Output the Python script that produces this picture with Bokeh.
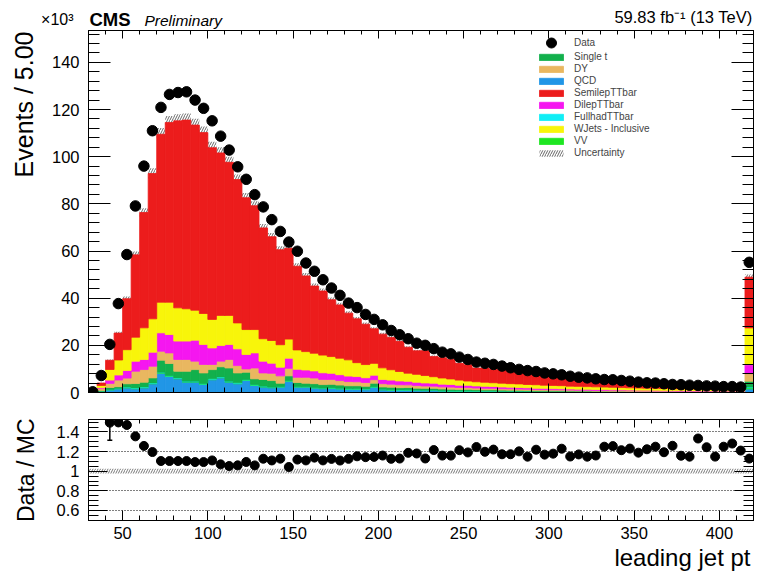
import math
import numpy as np
from bokeh.plotting import figure
from bokeh.layouts import column
from bokeh.models import (Range1d, LinearAxis, FixedTicker, SingleIntervalTicker,
                          Legend, LegendItem, Label, Title, CustomJSTickFormatter)
from bokeh.embed import file_html
from bokeh.resources import INLINE

# 5 GeV bins from 30 to 420 GeV; the last bin also holds the overflow
BIN_LOW, BIN_HIGH, BIN_WIDTH = 30, 420, 5

# events per bin, in units of 10^3
data = [0.3, 7.2, 20.4, 37.7, 58.5, 79.1, 96.0, 111.0, 120.9, 126.4,
        127.2, 127.5, 124.0, 120.5, 115.2, 108.7, 102.8, 95.7, 90.4, 83.9,
        78.7, 73.3, 68.3, 63.8, 59.9, 54.9, 51.4, 47.8, 44.3, 41.2,
        37.9, 36.0, 33.1, 31.0, 28.7, 26.3, 24.5, 22.8, 20.9, 20.0,
        18.6, 17.1, 16.4, 15.0, 14.0, 12.9, 12.4, 11.9, 11.2, 10.5,
        9.8, 9.3, 8.9, 8.3, 7.9, 7.5, 6.9, 6.5, 6.2, 5.8,
        5.5, 5.4, 5.1, 4.8, 4.4, 4.1, 4.0, 3.7, 3.4, 3.3,
        3.1, 3.0, 2.8, 2.7, 2.5, 2.5, 2.3, 55.2]

qcd = [0.0, 0.4, 1.1, 1.56, 1.98, 1.56, 1.98, 3.68, 8.2, 6.8,
       5.8, 4.4, 4.4, 3.4, 5.4, 6.2, 4.4, 3.7, 5.1, 3.0,
       2.3, 2.0, 2.3, 4.8, 2.3, 2.3, 1.9, 1.6, 1.8, 1.5,
       1.3, 1.4, 1.2, 2.2, 1.1, 1.0, 0.9, 1.0, 0.8, 0.75,
       0.8, 0.65, 0.6, 0.55, 0.6, 0.5, 0.45, 0.5, 0.4, 0.4,
       0.35, 0.4, 0.3, 0.3, 0.28, 0.3, 0.25, 0.22, 0.25, 0.2,
       0.2, 0.18, 0.2, 0.16, 0.15, 0.16, 0.13, 0.14, 0.12, 0.12,
       0.1, 0.11, 0.1, 0.09, 0.1, 0.08, 0.08, 1.5]

vv = [0.0, 0.05, 0.1, 0.1, 0.1, 0.2, 0.2, 0.2, 0.2, 0.2,
      0.2, 0.2, 0.2, 0.2, 0.2, 0.2, 0.2, 0.2, 0.2, 0.2,
      0.2, 0.15, 0.15, 0.15, 0.15, 0.15, 0.15, 0.15, 0.15, 0.15,
      0.15, 0.15, 0.15, 0.15, 0.15, 0.15, 0.1, 0.1, 0.1, 0.1,
      0.1, 0.1, 0.1, 0.1, 0.1, 0.1, 0.1, 0.1, 0.1, 0.1,
      0.1, 0.05, 0.05, 0.05, 0.05, 0.05, 0.05, 0.05, 0.05, 0.05,
      0.05, 0.05, 0.05, 0.05, 0.05, 0.05, 0.05, 0.05, 0.05, 0.05,
      0.05, 0.05, 0.05, 0.05, 0.05, 0.05, 0.05, 0.5]

fullhad_ttbar = [0.0, 0.05, 0.1, 0.1, 0.2, 0.2, 0.2, 0.2, 0.2, 0.2,
                 0.2, 0.2, 0.2, 0.2, 0.2, 0.2, 0.2, 0.2, 0.2, 0.2,
                 0.2, 0.1, 0.1, 0.1, 0.1, 0.1, 0.1, 0.1, 0.1, 0.1,
                 0.1, 0.1, 0.1, 0.1, 0.1, 0.1, 0.1, 0.1, 0.1, 0.1,
                 0.1, 0.05, 0.05, 0.05, 0.05, 0.05, 0.05, 0.05, 0.05, 0.05,
                 0.05, 0.05, 0.05, 0.05, 0.05, 0.05, 0.05, 0.05, 0.05, 0.05,
                 0.05, 0.05, 0.05, 0.05, 0.05, 0.05, 0.05, 0.05, 0.05, 0.05,
                 0.05, 0.05, 0.05, 0.05, 0.05, 0.05, 0.05, 0.3]

single_t = [0.01, 0.3, 0.85, 0.7, 1.42, 1.84, 1.98, 2.12, 5.1, 5.1,
            2.8, 4.2, 4.9, 4.5, 3.9, 4.3, 5.6, 4.2, 3.1, 2.4,
            2.8, 2.8, 1.4, 2.0, 1.7, 1.4, 1.6, 1.5, 1.4, 1.4,
            1.3, 1.2, 1.2, 1.5, 1.0, 1.0, 0.95, 0.9, 0.85, 0.8,
            0.75, 0.7, 0.68, 0.62, 0.6, 0.55, 0.52, 0.5, 0.46, 0.44,
            0.42, 0.4, 0.37, 0.36, 0.34, 0.32, 0.3, 0.29, 0.27, 0.26,
            0.25, 0.23, 0.22, 0.21, 0.2, 0.19, 0.18, 0.17, 0.16, 0.16,
            0.15, 0.14, 0.13, 0.13, 0.12, 0.11, 0.11, 2.5]

dy = [0.02, 0.8, 1.7, 2.83, 2.4, 5.23, 5.38, 4.95, 3.8, 4.5,
      5.0, 5.0, 3.6, 3.6, 2.2, 2.4, 3.6, 3.1, 1.4, 4.6,
      2.8, 3.1, 3.1, 3.2, 2.2, 2.5, 2.4, 2.2, 2.1, 1.9,
      1.8, 1.7, 1.6, 1.5, 1.4, 1.3, 1.25, 1.15, 1.1, 1.0,
      0.95, 0.9, 0.85, 0.8, 0.75, 0.7, 0.66, 0.62, 0.58, 0.55,
      0.52, 0.49, 0.46, 0.44, 0.42, 0.4, 0.38, 0.36, 0.34, 0.32,
      0.31, 0.29, 0.28, 0.27, 0.25, 0.24, 0.23, 0.22, 0.21, 0.2,
      0.19, 0.18, 0.17, 0.17, 0.16, 0.15, 0.15, 3.2]

dilep_ttbar = [0.01, 0.4, 1.4, 2.13, 3.26, 4.25, 4.24, 5.95, 7.8, 7.8,
               7.8, 7.8, 8.9, 8.5, 7.0, 6.6, 6.4, 7.1, 6.1, 6.4,
               5.0, 4.3, 3.7, 4.3, 3.4, 3.1, 3.0, 2.8, 2.6, 2.5,
               2.3, 2.2, 2.0, 1.9, 1.8, 1.7, 1.6, 1.5, 1.4, 1.3,
               1.25, 1.15, 1.1, 1.0, 0.95, 0.9, 0.85, 0.8, 0.75, 0.7,
               0.66, 0.62, 0.58, 0.55, 0.52, 0.49, 0.46, 0.44, 0.41, 0.39,
               0.37, 0.35, 0.33, 0.31, 0.3, 0.28, 0.27, 0.25, 0.24, 0.23,
               0.22, 0.21, 0.2, 0.19, 0.18, 0.17, 0.16, 3.8]

wjets = [0.02, 1.0, 4.5, 6.36, 8.8, 10.18, 13.45, 14.15, 13.0, 13.7,
         14.1, 13.7, 12.7, 13.1, 12.1, 12.8, 12.3, 11.0, 10.6, 9.9,
         9.5, 9.6, 9.5, 8.1, 8.2, 7.8, 7.5, 7.5, 7.1, 7.0,
         6.9, 5.9, 5.6, 5.0, 4.9, 4.4, 4.0, 3.45, 3.35, 3.15,
         2.75, 2.6, 2.37, 2.13, 1.8, 1.75, 1.72, 1.58, 1.61, 1.51,
         1.55, 1.39, 1.49, 1.35, 1.34, 1.29, 1.21, 1.19, 1.13, 1.13,
         1.07, 1.05, 0.97, 0.95, 0.9, 0.88, 0.89, 0.82, 0.77, 0.74,
         0.74, 0.71, 0.7, 0.67, 0.64, 0.64, 0.6, 15.6]

semilep_ttbar = [0.04, 1.0, 3.9, 11.4, 21.6, 34.9, 48.9, 61.6, 71.2, 76.2,
                 79.3, 80.0, 78.5, 76.7, 72.8, 68.9, 64.9, 60.8, 55.9, 52.5,
                 47.0, 44.0, 40.3, 38.5, 35.5, 32.1, 28.5, 27.2, 24.1, 22.6,
                 19.8, 18.6, 17.1, 14.7, 14.3, 13.7, 12.8, 11.0, 10.0, 10.5,
                 8.6, 8.6, 8.4, 7.1, 6.9, 5.8, 6.0, 5.6, 5.6, 5.2,
                 4.5, 4.7, 4.0, 4.0, 3.7, 3.2, 3.3, 2.95, 2.9, 2.6,
                 2.1, 2.1, 2.1, 1.9, 1.8, 1.5, 1.4, 1.4, 1.1, 1.3,
                 1.2, 0.8, 0.85, 1.0, 0.7, 0.7, 0.7, 21.5]

# relative systematic uncertainty on the simulation
unc_rel = 0.024
# extra relative MC statistical uncertainty in the low-pt bins (bin centre -> value)
mc_stat_rel = {42.5: 0.12, 47.5: 0.02}

FONT = "Liberation Sans"
W = 758
FRAME_L, FRAME_R = 87, 753   # frame edges shared by all panels, in pixels
HEAD_H, HEAD_TOP = 30, 8

n = len(data)
lefts = np.array([BIN_LOW + BIN_WIDTH * i for i in range(n)], dtype=float)
rights = lefts + BIN_WIDTH
centers = lefts + BIN_WIDTH / 2

# stacking order, bottom to top
stack = [
    ("QCD", qcd, "#2196e6"),
    ("VV", vv, "#1ee622"),
    ("FullhadTTbar", fullhad_ttbar, "#10eef5"),
    ("Single t", single_t, "#12b04c"),
    ("DY", dy, "#e9b760"),
    ("DilepTTbar", dilep_ttbar, "#f516f0"),
    ("WJets - Inclusive", wjets, "#f8f50a"),
    ("SemilepTTbar", semilep_ttbar, "#ec1c1c"),
]
total = np.zeros(n)
for _, vals, _ in stack:
    total = total + np.array(vals)
data_arr = np.array(data)

Y_MAX = 153.5
R_MIN, R_MAX = 0.498, 1.527

BLANK = CustomJSTickFormatter(code="return ''")


def style_axis(ax, ticker, tick_in, minor_in, label_size=None, standoff=9):
    ax.ticker = ticker
    ax.major_tick_in = tick_in
    ax.major_tick_out = 0
    ax.minor_tick_in = minor_in
    ax.minor_tick_out = 0
    ax.axis_line_color = "black"
    ax.major_tick_line_color = "black"
    ax.minor_tick_line_color = "black"
    if label_size is None:
        ax.formatter = BLANK
        ax.major_label_text_font_size = "1px"
        ax.major_label_standoff = 0
    else:
        ax.major_label_text_font_size = label_size
        ax.major_label_text_font = FONT
        ax.major_label_text_color = "black"
        ax.major_label_standoff = standoff


def side_title(text, size, standoff, offset=0, align="right", vertical_align="bottom"):
    return Title(text=text, align=align, vertical_align=vertical_align, text_font=FONT,
                 text_font_size=size, text_font_style="normal", text_color="black",
                 standoff=standoff, offset=offset)


def head_label(x, baseline_from_top, text, size_px, style="normal", align="left"):
    # anchored at the middle of the text line, computed from the wanted baseline
    mid = baseline_from_top - 0.3465 * size_px
    return Label(x=x, y=HEAD_H - mid, text=text, text_align=align, text_baseline="middle",
                 text_font=FONT, text_font_size=f"{size_px}px", text_font_style=style,
                 text_color="black")


# ---------------- header strip with the experiment and luminosity texts ----------------
# its frame spans the same pixels as the panels below, so x and y are in pixels
head = figure(title=None, width=W, height=HEAD_H,
              x_range=Range1d(FRAME_L, FRAME_R), y_range=Range1d(0, HEAD_H - HEAD_TOP),
              output_backend="svg", toolbar_location=None, x_axis_location=None,
              y_axis_location=None, min_border_left=FRAME_L, min_border_right=W - FRAME_R,
              min_border_top=HEAD_TOP, min_border_bottom=0)
head.grid.visible = False
head.outline_line_color = None
exp_axis = LinearAxis(ticker=FixedTicker(ticks=[]), axis_label="\u00d710\u00b3",
                      axis_label_orientation="horizontal", axis_label_standoff=15,
                      axis_label_text_font=FONT, axis_label_text_font_size="16px",
                      axis_label_text_font_style="normal", axis_label_text_color="black",
                      axis_line_color=None, major_tick_line_color=None,
                      minor_tick_line_color=None, major_tick_out=0, minor_tick_out=0,
                      major_tick_in=0, minor_tick_in=0, major_label_standoff=0,
                      major_label_text_font_size="1px", formatter=BLANK)
head.add_layout(exp_axis, "left")
head.add_layout(head_label(88, 25, "CMS", 18.5, "bold"))
head.add_layout(head_label(143, 25, "Preliminary", 15.5, "italic"))
head.add_layout(head_label(752, 22.7, "59.83 fb\u207b\u00b9 (13 TeV)", 16.5, align="right"))

# ---------------- main panel ----------------
p = figure(title=None, width=W, height=375, x_range=Range1d(BIN_LOW, BIN_HIGH),
           y_range=Range1d(0, Y_MAX), output_backend="svg", toolbar_location=None,
           min_border_left=FRAME_L, min_border_right=W - FRAME_R, min_border_top=0,
           min_border_bottom=13)
p.xgrid.visible = False
p.ygrid.visible = False
p.outline_line_color = "black"
p.background_fill_color = "white"
p.border_fill_color = "white"

p.add_layout(LinearAxis(), "above")
p.add_layout(LinearAxis(), "right")
x_tick = SingleIntervalTicker(interval=50, num_minor_ticks=5)
y_tick = SingleIntervalTicker(interval=20, num_minor_ticks=5)
style_axis(p.below[0], x_tick, 9, 5)
style_axis(p.above[0], x_tick, 8, 4)
style_axis(p.left[0], y_tick, 22, 11, "16.5px")
style_axis(p.right[0], y_tick, 22, 11)
p.add_layout(side_title("Events / 5.00", "25px", 18, offset=1, vertical_align="top"), "left")

# uncertainty band first, so the stack hides its lower half
unc_r = p.quad(left=lefts, right=rights, bottom=total * (1 - unc_rel), top=total * (1 + unc_rel),
               fill_alpha=0, line_color=None, hatch_pattern="/", hatch_color="#666666",
               hatch_scale=5, hatch_weight=1)

rends = {}
base = np.zeros(n)
for name, vals, color in stack:
    top = base + np.array(vals)
    rends[name] = p.quad(left=lefts, right=rights, bottom=base, top=top,
                         fill_color=color, line_color=color, line_width=0.8)
    base = top

data_r = p.scatter(centers, data_arr, size=10.5, marker="circle", color="black")

leg_data = Legend(items=[LegendItem(label="Data", renderers=[data_r])],
                  location=(448, 337), glyph_width=30, glyph_height=25, label_height=25,
                  label_standoff=8, label_text_font=FONT, label_text_font_size="10px",
                  padding=0, margin=0, border_line_color=None, background_fill_alpha=0)
order = ["Single t", "DY", "QCD", "SemilepTTbar", "DilepTTbar", "FullhadTTbar",
         "WJets - Inclusive", "VV"]
items = [LegendItem(label=nm, renderers=[rends[nm]]) for nm in order]
items.append(LegendItem(label="Uncertainty", renderers=[unc_r]))
leg_mc = Legend(items=items, location=(448, 234), glyph_width=30, glyph_height=8,
                label_height=9, spacing=1, label_standoff=8, label_text_font=FONT,
                label_text_font_size="10px", padding=0, margin=0,
                border_line_color=None, background_fill_alpha=0)
p.add_layout(leg_data, "center")
p.add_layout(leg_mc, "center")

# ---------------- ratio panel ----------------
ratio = data_arr / total
ratio_err = np.array([ratio[i] * math.sqrt(1.0 / (data[i] * 1000.0) + mc_stat_rel.get(centers[i], 0.0) ** 2)
                      for i in range(n)])

r = figure(title=None, width=W, height=172, x_range=p.x_range, y_range=Range1d(R_MIN, R_MAX),
           output_backend="svg", toolbar_location=None,
           min_border_left=FRAME_L, min_border_right=W - FRAME_R, min_border_top=14,
           min_border_bottom=57)
r.xgrid.visible = False
r.outline_line_color = "black"
r.ygrid.ticker = FixedTicker(ticks=[0.6, 0.8, 1.2, 1.4])
r.ygrid.grid_line_color = "black"
r.ygrid.grid_line_dash = "1 2"
r.ygrid.grid_line_width = 1

r.add_layout(LinearAxis(), "above")
r.add_layout(LinearAxis(), "right")
minor_r = [round(0.5 + 0.05 * k, 2) for k in range(21)]
ry_tick = FixedTicker(ticks=[0.6, 0.8, 1.0, 1.2, 1.4], minor_ticks=minor_r)
style_axis(r.below[0], x_tick, 10, 5, "16.5px", standoff=6)
style_axis(r.above[0], x_tick, 8, 4)
style_axis(r.left[0], ry_tick, 19, 10, "16.5px")
style_axis(r.right[0], ry_tick, 19, 10)
r.left[0].formatter = CustomJSTickFormatter(code="return String(Math.round(tick * 10) / 10)")
r.add_layout(side_title("Data / MC", "23px", 25, offset=-1, vertical_align="top"), "left")
r.add_layout(side_title("leading jet pt", "24px", 0, offset=3), "below")

r.quad(left=lefts, right=rights, bottom=1 - unc_rel, top=1 + unc_rel, fill_alpha=0,
       line_color=None, hatch_pattern="/", hatch_color="#777777", hatch_scale=5, hatch_weight=1)

r.segment(x0=centers, x1=centers, y0=ratio - ratio_err, y1=ratio + ratio_err,
          line_color="black", line_width=1.5)
r.scatter(centers, ratio - ratio_err, marker="dash", size=5, line_color="black", line_width=1.5)
r.scatter(centers, ratio + ratio_err, marker="dash", size=5, line_color="black", line_width=1.5)
r.scatter(centers, ratio, size=9, marker="circle", color="black")

layout = column(head, p, r, spacing=0)
open("out.html", "w").write(file_html(layout, INLINE))
